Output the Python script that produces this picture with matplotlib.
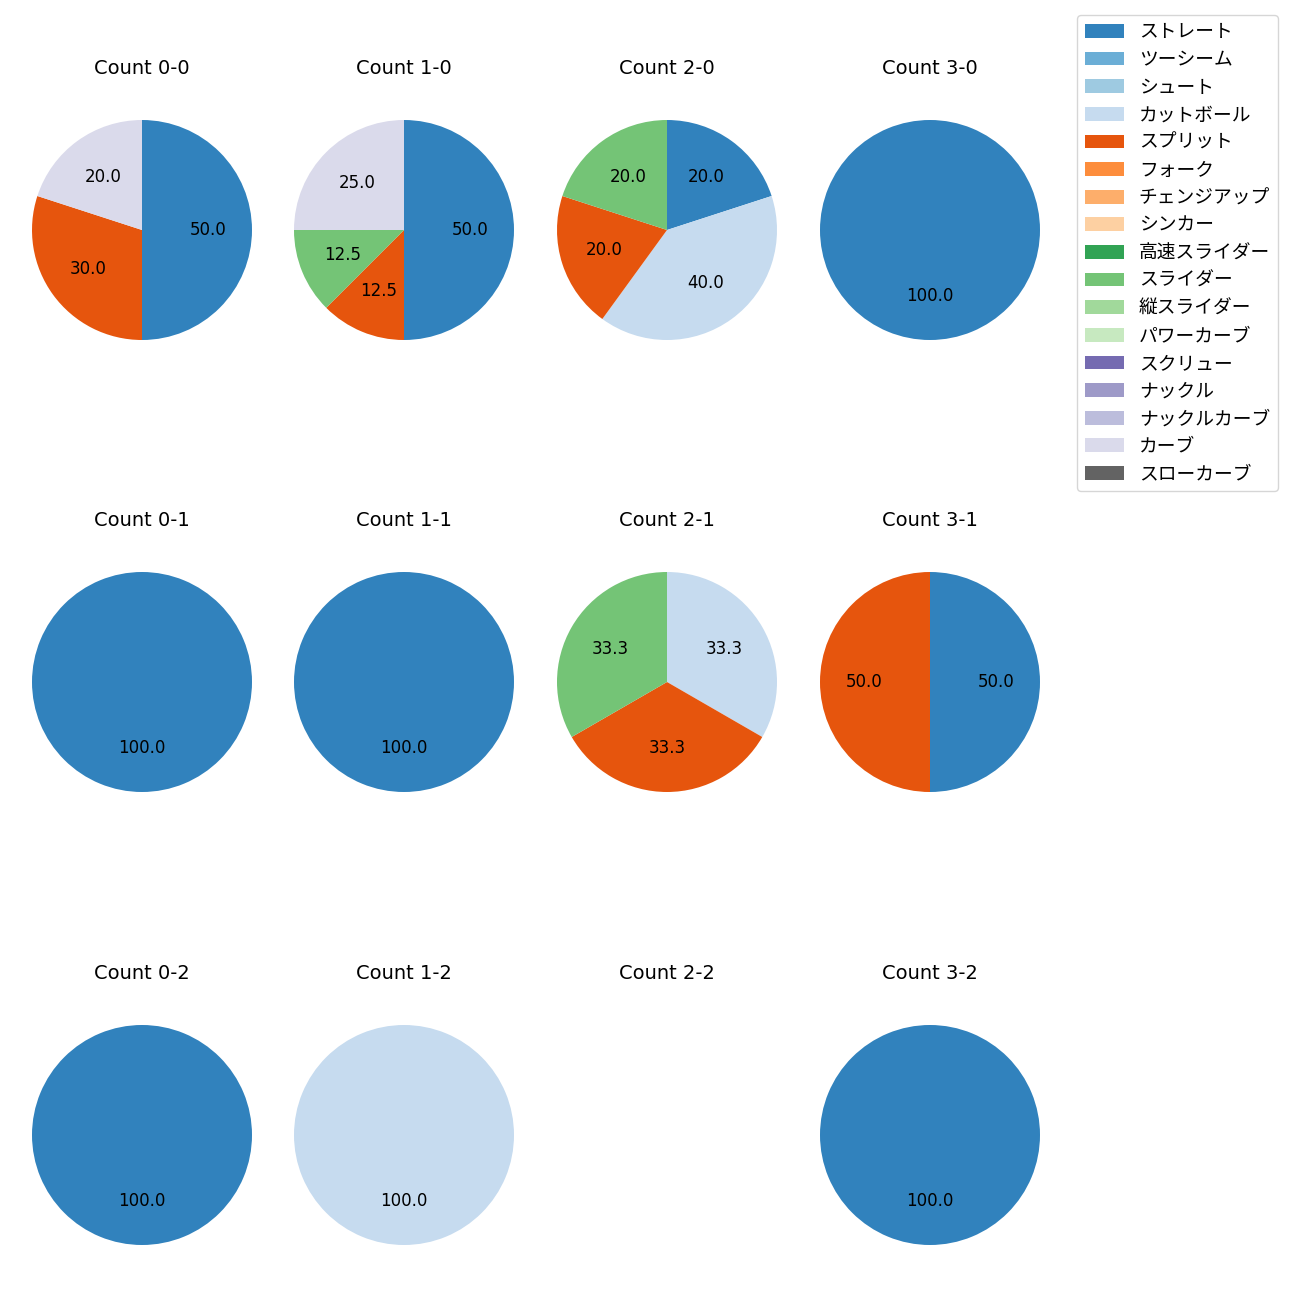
import matplotlib
matplotlib.use("Agg")
import matplotlib.pyplot as plt
from matplotlib.patches import Patch
import numpy as np

plt.rcParams["font.family"] = ["DejaVu Sans", "Noto Sans CJK JP"]

pitch_types = [
    "ストレート", "ツーシーム", "シュート", "カットボール", "スプリット",
    "フォーク", "チェンジアップ", "シンカー", "高速スライダー", "スライダー",
    "縦スライダー", "パワーカーブ", "スクリュー", "ナックル", "ナックルカーブ",
    "カーブ", "スローカーブ",
]

# pitch counts per ball-strike count, same order as pitch_types
count_0_0 = [5, 0, 0, 0, 3, 0, 0, 0, 0, 0, 0, 0, 0, 0, 0, 2, 0]
count_1_0 = [4, 0, 0, 0, 1, 0, 0, 0, 0, 1, 0, 0, 0, 0, 0, 2, 0]
count_2_0 = [1, 0, 0, 2, 1, 0, 0, 0, 0, 1, 0, 0, 0, 0, 0, 0, 0]
count_3_0 = [1, 0, 0, 0, 0, 0, 0, 0, 0, 0, 0, 0, 0, 0, 0, 0, 0]
count_0_1 = [1, 0, 0, 0, 0, 0, 0, 0, 0, 0, 0, 0, 0, 0, 0, 0, 0]
count_1_1 = [1, 0, 0, 0, 0, 0, 0, 0, 0, 0, 0, 0, 0, 0, 0, 0, 0]
count_2_1 = [0, 0, 0, 1, 1, 0, 0, 0, 0, 1, 0, 0, 0, 0, 0, 0, 0]
count_3_1 = [1, 0, 0, 0, 1, 0, 0, 0, 0, 0, 0, 0, 0, 0, 0, 0, 0]
count_0_2 = [1, 0, 0, 0, 0, 0, 0, 0, 0, 0, 0, 0, 0, 0, 0, 0, 0]
count_1_2 = [0, 0, 0, 1, 0, 0, 0, 0, 0, 0, 0, 0, 0, 0, 0, 0, 0]
count_2_2 = [0, 0, 0, 0, 0, 0, 0, 0, 0, 0, 0, 0, 0, 0, 0, 0, 0]
count_3_2 = [1, 0, 0, 0, 0, 0, 0, 0, 0, 0, 0, 0, 0, 0, 0, 0, 0]

grid = [
    [("0-0", count_0_0), ("1-0", count_1_0), ("2-0", count_2_0), ("3-0", count_3_0)],
    [("0-1", count_0_1), ("1-1", count_1_1), ("2-1", count_2_1), ("3-1", count_3_1)],
    [("0-2", count_0_2), ("1-2", count_1_2), ("2-2", count_2_2), ("3-2", count_3_2)],
]

colors = plt.get_cmap("tab20c").colors[:len(pitch_types)]

W = H = 1300
fig = plt.figure(figsize=(13, 13), dpi=100)

col_x = [142, 404, 667, 930]
row_y = [230, 682, 1135]
box = 275  # axes size in px; pie radius is box / 2.5

for r, row in enumerate(grid):
    for c, (name, vals) in enumerate(row):
        cx, cy = col_x[c], row_y[r]
        ax = fig.add_axes([(cx - box / 2) / W, 1 - (cy + box / 2) / H, box / W, box / H])
        vals = np.array(vals, dtype=float)
        keep = vals > 0
        if keep.any():
            ax.pie(
                vals[keep],
                colors=[colors[i] for i in np.where(keep)[0]],
                autopct="%.1f",
                startangle=90,
                counterclock=False,
                textprops={"fontsize": 12},
            )
        else:
            ax.set_xlim(-1.25, 1.25)
            ax.set_ylim(-1.25, 1.25)
        ax.set_aspect("equal")
        ax.axis("off")
        ax.set_title(f"Count {name}", fontsize=14, pad=13)

handles = [Patch(facecolor=colors[i], label=p) for i, p in enumerate(pitch_types)]
fig.legend(
    handles=handles,
    loc="upper left",
    bbox_to_anchor=(1077 / W, 1 - 15 / H),
    borderaxespad=0,
    fontsize=13.5,
    handlelength=2.1,
    handleheight=0.75,
    labelspacing=0.46,
)

fig.savefig("out.png", dpi=100)
